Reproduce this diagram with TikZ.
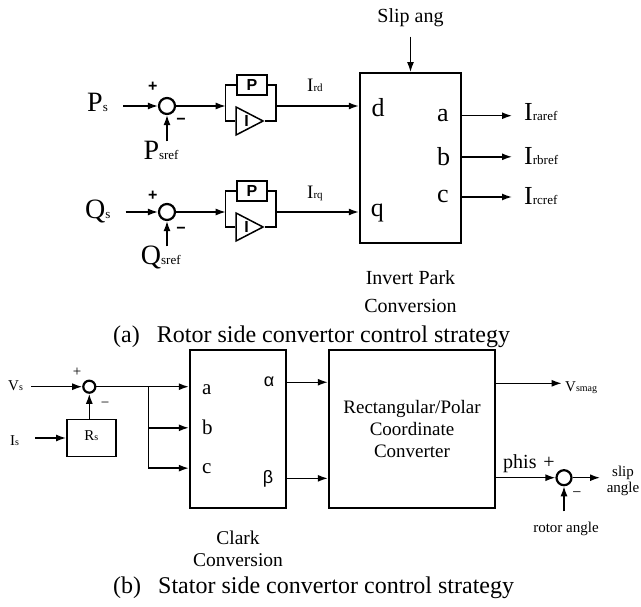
\documentclass[tikz,border=0pt]{standalone}
\usepackage{fontspec}
\setmainfont{Liberation Serif}
\newfontfamily\helv{Liberation Sans}
\usetikzlibrary{shapes.geometric, arrows.meta, positioning, calc}
\newcommand{\fsz}[2]{\fontsize{#1}{#2}\selectfont}
\newcommand{\lsub}[2]{{\fsz{#1}{#1}#2}}

\begin{document}
\begin{tikzpicture}[
  x=1pt, y=-1pt,
  node distance=20pt and 20pt,
  arr/.style={-{Latex[length=10pt,width=7pt]}, line width=1.4pt},
  wire/.style={line width=1.4pt},
  bigbox/.style={draw, line width=2.4pt, inner sep=0},
  smallbox/.style={draw, line width=1.5pt, inner sep=0},
  sumc/.style={circle, draw, line width=2.2pt, inner sep=0, minimum size=#1},
  txt/.style={inner sep=0, font=\fsz{#1}{22}},
  pilbl/.style={inner sep=0, font=\helv\bfseries\fsz{16}{16}},
  tri/.style={isosceles triangle, isosceles triangle stretches, draw,
              line width=1.5pt, inner sep=0, minimum width=28pt,
              minimum height=27pt, anchor=apex},
]
  \useasboundingbox (0,0) rectangle (641,607);

  \node[bigbox, minimum width=101pt, minimum height=170pt] (ipark) at (410.5,158.3) {};
  \node[txt=20, anchor=base] (slip) at (410.5,23) {Slip ang};
  \draw[arr, shorten <=9pt] (slip.south) -- (slip.south |- ipark.north);
  \node[txt=20, font=\fsz{20}{28}, align=center, below=26pt of ipark] (iplbl) {Invert Park\\Conversion};

  \node[txt=26, anchor=base west] (pd) at (371.5,116.7) {d};
  \node[txt=26, anchor=base west] (pq) at (370.7,217) {q};
  \node[txt=26, anchor=base west] (pa) at (437,121.7) {a};
  \node[txt=26, anchor=base west] (pb) at (437,165.7) {b};
  \node[txt=26, anchor=base west] (pc) at (437,203) {c};

  \node[txt=26, anchor=base west] (ira) at (524,121) {I\lsub{13}{raref}};
  \node[txt=26, anchor=base west] (irb) at (524,165) {I\lsub{13}{rbref}};
  \node[txt=26, anchor=base west] (irc) at (524,205) {I\lsub{13}{rcref}};
  \draw[arr, shorten >=12pt] (pa -| ipark.east) -- (pa -| ira.west);
  \draw[arr, shorten >=12pt] (pb -| ipark.east) -- (pb -| irb.west);
  \draw[arr, shorten >=12pt] (pc -| ipark.east) -- (pc -| irc.west);

  \node[txt=28, anchor=base west] (ps) at (87,111.7) {P\lsub{13}{s}};
  \node[sumc=16pt] (sum1) at (167,106) {};
  \draw[arr, shorten <=15pt] (ps.east |- sum1) -- (sum1);
  \node[pilbl] (plus1) at (152.7,87.3) {+};
  \node[pilbl] (minus1) at (181,121.7) {−};
  \node[txt=28, anchor=base west] (psref) at (143.3,160) {P\lsub{13}{sref}};
  \draw[arr] (psref.north -| sum1) -- (sum1);

  \coordinate (pin1) at (225.7,106);
  \coordinate (pout1) at (276,106);
  \node[smallbox, pilbl, minimum width=30pt, minimum height=20pt] (pbox1) at (252,85) {P};
  \node[tri] (ibox1) at (265,121) {};
  \node[pilbl] (ilbl1) at (246.7,121) {I};
  \draw[wire] (pbox1.west) -| (pin1) |- (ibox1.west);
  \draw[wire] (pbox1.east) -| (pout1) |- (ibox1.apex);
  \draw[arr] (sum1) -- (pin1);
  \draw[arr] (pout1) -- (pout1 -| ipark.west);
  \node[txt=19, anchor=base west] (ird) at (307,92) {I\lsub{11}{rd}};

  \node[txt=28, anchor=base west] (qs) at (85,219) {Q\lsub{13}{s}};
  \node[sumc=16pt] (sum2) at (167,212) {};
  \draw[arr, shorten <=15pt] (qs.east |- sum2) -- (sum2);
  \node[pilbl] (plus2) at (152.7,196) {+};
  \node[pilbl] (minus2) at (181,230) {−};
  \node[txt=28, anchor=base west] (qsref) at (140.7,265) {Q\lsub{13}{sref}};
  \draw[arr] (qsref.north -| sum2) -- (sum2);

  \coordinate (pin2) at (225.7,212);
  \coordinate (pout2) at (276,212);
  \node[smallbox, pilbl, minimum width=30pt, minimum height=20pt] (pbox2) at (252,191) {P};
  \node[tri] (ibox2) at (265,227) {};
  \node[pilbl] (ilbl2) at (246.7,227) {I};
  \draw[wire] (pbox2.west) -| (pin2) |- (ibox2.west);
  \draw[wire] (pbox2.east) -| (pout2) |- (ibox2.apex);
  \draw[arr] (sum2) -- (pin2);
  \draw[arr] (pout2) -- (pout2 -| ipark.west);
  \node[txt=19, anchor=base west] (irq) at (307,199) {I\lsub{11}{rq}};

  \node[txt=24, anchor=base west] (capa) at (113,342)
    {(a)\hspace{17pt}Rotor side convertor control strategy};

  \node[txt=15, anchor=base west] (vs) at (8,390.7) {V\lsub{10}{s}};
  \node[sumc=12pt] (sum3) at (89.3,386.7) {};
  \draw[arr, shorten <=8pt] (vs.east |- sum3) -- (sum3);
  \node[txt=15] (plus3) at (77,372) {+};
  \node[txt=15] (minus3) at (105,405) {−};
  \node[smallbox, txt=15, minimum width=49pt, minimum height=37pt,
        text height=8pt, text depth=4pt] (rs) at (91.3,438) {R\lsub{10}{s}};
  \draw[arr] (rs.north -| sum3) -- (sum3);
  \node[txt=15, anchor=base west] (is) at (10,445) {I\lsub{10}{s}};
  \draw[arr, shorten <=16pt] (is.east |- rs) -- (rs);

  \node[bigbox, minimum width=96pt, minimum height=158pt] (clark) at (238,429) {};
  \node[txt=21, anchor=base west] (ca) at (202,395) {a};
  \node[txt=21, anchor=base west] (cb) at (202,435) {b};
  \node[txt=21, anchor=base west] (cc) at (202,473) {c};
  \node[inner sep=0, font=\helv\fsz{18}{18}, anchor=base] (alpha) at (269,387) {α};
  \node[inner sep=0, font=\helv\fsz{18}{18}, anchor=base] (beta) at (268,483) {β};
  \node[txt=19.5, align=center, below=21.7pt of clark] (clarklbl) {Clark\\Conversion};

  \coordinate (split) at (148.3,386.7);
  \draw[wire] (sum3) -- (split);
  \draw[arr] (split) -- (split -| clark.west);
  \draw[arr] (split) |- (cb -| clark.west);
  \draw[arr] (split) |- (cc -| clark.west);

  \node[bigbox, txt=19, align=center, minimum width=166pt, minimum height=158pt]
    (rect) at (412,429) {Rectangular/Polar\\Coordinate\\Converter};
  \draw[arr] (alpha -| clark.east) -- (alpha -| rect.west);
  \draw[arr] (beta -| clark.east) -- (beta -| rect.west);

  \coordinate (vmagend) at (561.7,383.3);
  \draw[arr] (rect.east |- vmagend) -- (vmagend);
  \node[txt=15, anchor=base west] (vsmag) at (565,391.7) {V\lsub{10}{smag}};

  \node[sumc=15pt] (sum4) at (564,477.7) {};
  \draw[arr] (rect.east |- sum4) -- (sum4);
  \node[txt=20, anchor=base west] (phis) at (503,468) {phis};
  \node[txt=20] (plus4) at (549,463) {+};
  \node[txt=16] (minus4) at (577,495) {−};
  \coordinate (slipend) at (600,477.7);
  \draw[arr] (sum4) -- (slipend);
  \node[txt=15, font=\fsz{15}{16}, align=center, anchor=north] (sliplbl) at (623,465.5) {slip\\angle};
  \node[txt=15, anchor=base] (rotor) at (566,532) {rotor angle};
  \draw[arr, shorten <=10pt] (rotor.north -| sum4) -- (sum4);

  \node[txt=24, anchor=base west] (capb) at (113,593)
    {(b)\hspace{17pt}Stator side convertor control strategy};
\end{tikzpicture}
\end{document}
